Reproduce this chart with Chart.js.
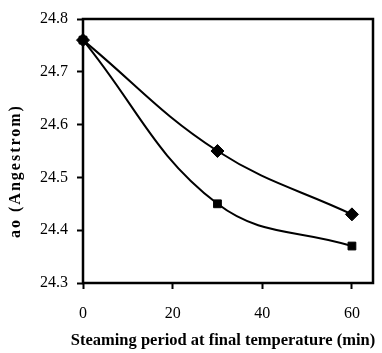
<!DOCTYPE html>
<html>
<head>
<meta charset="utf-8">
<script src="https://cdn.jsdelivr.net/npm/chart.js@4/dist/chart.umd.min.js"></script>
<style>
  body { margin: 0; background: #fff; }
  #wrap { width: 382px; height: 353px; }
</style>
</head>
<body>
<div id="wrap"><canvas id="chart"></canvas></div>
<script>
// steaming time (min) and unit cell size a0
const times = [0, 30, 60];
const diamondSeries = [24.76, 24.55, 24.43];
const squareSeries = [24.76, 24.45, 24.37];
const xTicks = [0, 20, 40, 60];
const yTicks = [24.3, 24.4, 24.5, 24.6, 24.7, 24.8];

const serif = "'Liberation Serif', 'Times New Roman', serif";

// box round the plot area
const framePlugin = {
    id: 'frame',
    beforeDatasetsDraw(chart) {
        const a = chart.chartArea;
        const ctx = chart.ctx;
        ctx.save();
        ctx.strokeStyle = '#000';
        ctx.lineWidth = 2.5;
        ctx.strokeRect(a.left, a.top, a.right - a.left, a.bottom - a.top);
        ctx.restore();
    }
};

// axis titles, drawn by hand to get the letter spacing of the original
const titlesPlugin = {
    id: 'titles',
    afterDraw(chart) {
        const ctx = chart.ctx;
        ctx.save();
        ctx.fillStyle = '#000';
        ctx.textAlign = 'center';
        ctx.textBaseline = 'middle';

        ctx.font = 'bold 16.5px ' + serif;
        ctx.fillText('Steaming period at final temperature (min)', 223, 341);

        ctx.translate(16, 171);
        ctx.rotate(-Math.PI / 2);
        ctx.font = 'bold 16px ' + serif;
        ctx.letterSpacing = '2px';
        ctx.fillText('ao (Angestrom)', 0, 0);
        ctx.restore();
    }
};

const toPoints = vals => vals.map((v, i) => ({ x: times[i], y: v }));

new Chart(document.getElementById('chart'), {
    type: 'line',
    data: {
        datasets: [{
            data: toPoints(diamondSeries),
            borderColor: '#000',
            backgroundColor: '#000',
            borderWidth: 2,
            tension: 0.4,
            pointStyle: 'rectRot',
            pointRadius: 6.5,
            pointBorderWidth: 1,
            clip: false
        }, {
            data: toPoints(squareSeries),
            borderColor: '#000',
            backgroundColor: '#000',
            borderWidth: 2,
            tension: 0.4,
            pointStyle: 'rect',
            pointRadius: 5.5,
            pointBorderWidth: 1,
            clip: false
        }]
    },
    options: {
        responsive: true,
        maintainAspectRatio: false,
        animation: false,
        layout: { padding: { left: 0, top: 19, right: 9, bottom: 0 } },
        plugins: { legend: { display: false }, tooltip: { enabled: false } },
        scales: {
            x: {
                type: 'linear',
                min: 0,
                max: 64.7,
                afterBuildTicks: s => { s.ticks = xTicks.map(v => ({ value: v })); },
                afterFit: s => { s.height = 70; },
                border: { display: false },
                grid: { drawOnChartArea: false, color: '#000', tickLength: 6, tickWidth: 2 },
                ticks: { color: '#000', padding: 15, maxRotation: 0, font: { family: serif, size: 16 } }
            },
            y: {
                min: 24.3,
                max: 24.8,
                afterBuildTicks: s => { s.ticks = yTicks.map(v => ({ value: v })); },
                afterFit: s => { s.width = 83; },
                border: { display: false },
                grid: { drawOnChartArea: false, color: '#000', tickLength: 6, tickWidth: 2 },
                ticks: {
                    color: '#000',
                    padding: 9,
                    font: { family: serif, size: 16 },
                    callback: v => v.toFixed(1)
                }
            }
        }
    },
    plugins: [framePlugin, titlesPlugin]
});
</script>
</body>
</html>
